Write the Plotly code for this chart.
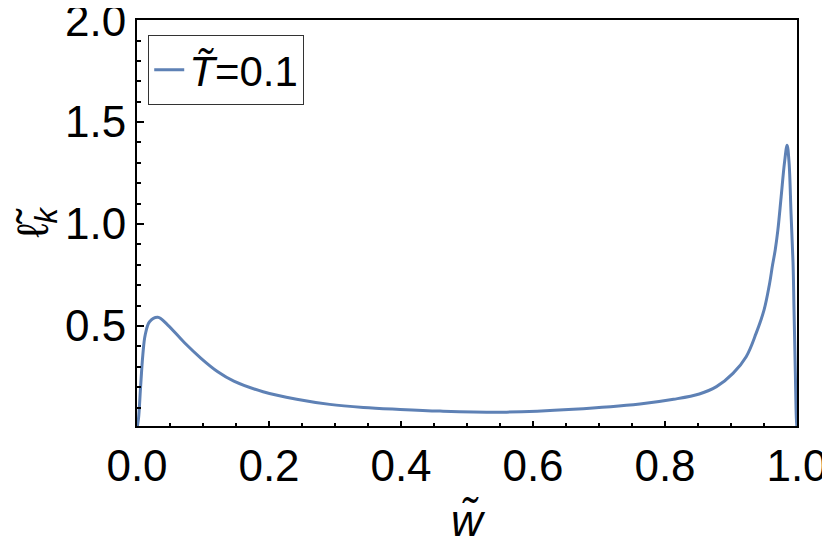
import plotly.graph_objects as go

# curve
w_vals = [0.0, 0.0023, 0.0053, 0.0088, 0.0124, 0.019, 0.0316, 0.0467, 0.072, 0.097,
          0.1224, 0.1467, 0.191, 0.242, 0.292, 0.343, 0.393, 0.459, 0.560, 0.661,
          0.762, 0.813, 0.852, 0.878, 0.903, 0.923, 0.938, 0.950, 0.958, 0.963,
          0.967, 0.971, 0.976, 0.981, 0.985, 0.988, 0.991, 0.994, 0.9955, 0.9975,
          0.999, 1.0]
lk_vals = [0.0, 0.047, 0.195, 0.358, 0.456, 0.521, 0.543, 0.505, 0.418, 0.342,
           0.276, 0.230, 0.178, 0.141, 0.116, 0.101, 0.092, 0.083, 0.078, 0.092,
           0.118, 0.141, 0.167, 0.203, 0.268, 0.35, 0.464, 0.578, 0.70, 0.80,
           0.873, 0.97, 1.134, 1.30, 1.387, 1.30, 1.05, 0.81, 0.578, 0.27,
           0.05, 0.0]

series_name = "<i>T\u0303</i>=0.1"
x_ticks = [0.0, 0.2, 0.4, 0.6, 0.8, 1.0]
y_ticks = [0.5, 1.0, 1.5, 2.0]

font_family = "Arial, Liberation Sans, sans-serif"

fig = go.Figure()

fig.add_trace(go.Scatter(
    x=w_vals,
    y=lk_vals,
    mode="lines",
    name=series_name,
    line=dict(color="#5E81B5", width=3, shape="spline", smoothing=1.0),
))

# the page body adds an 8px offset, margins account for it
fig.update_layout(
    width=830,
    height=541,
    margin=dict(l=129, r=41, t=12, b=123),
    plot_bgcolor="white",
    paper_bgcolor="white",
    font=dict(family=font_family, size=44, color="black"),
    showlegend=True,
    legend=dict(
        x=0.017, y=0.963, xanchor="left", yanchor="top",
        bordercolor="#333", borderwidth=1,
        font=dict(size=42),
        itemwidth=30,
        bgcolor="white",
    ),
)

fig.update_xaxes(
    range=[0, 1],
    automargin=False,
    tickvals=x_ticks,
    ticktext=[f"{v:.1f}" for v in x_ticks],
    ticklabeloverflow="allow",
    ticks="inside", ticklen=5, tickwidth=2, tickcolor="black",
    minor=dict(dtick=0.05, ticks="inside", ticklen=3, tickwidth=1.5, tickcolor="black"),
    showline=True, linewidth=2, linecolor="black", mirror=True,
    showgrid=False, zeroline=False,
    title=dict(text="<i>w\u0303</i>", standoff=16, font=dict(size=44)),
)

fig.update_yaxes(
    range=[0.01, 2.0005],
    automargin=False,
    tickvals=y_ticks,
    ticktext=[f"{v:.1f}" for v in y_ticks],
    ticklabeloverflow="allow",
    ticks="inside", ticklen=7, tickwidth=2, tickcolor="black",
    minor=dict(dtick=0.1, ticks="inside", ticklen=4, tickwidth=1.5, tickcolor="black"),
    showline=True, linewidth=2, linecolor="black", mirror=True,
    showgrid=False, zeroline=False,
    title=dict(text="\u2113\u0303<sub><i>k</i></sub>", standoff=14, font=dict(size=44)),
)

fig.write_html("out.html")
